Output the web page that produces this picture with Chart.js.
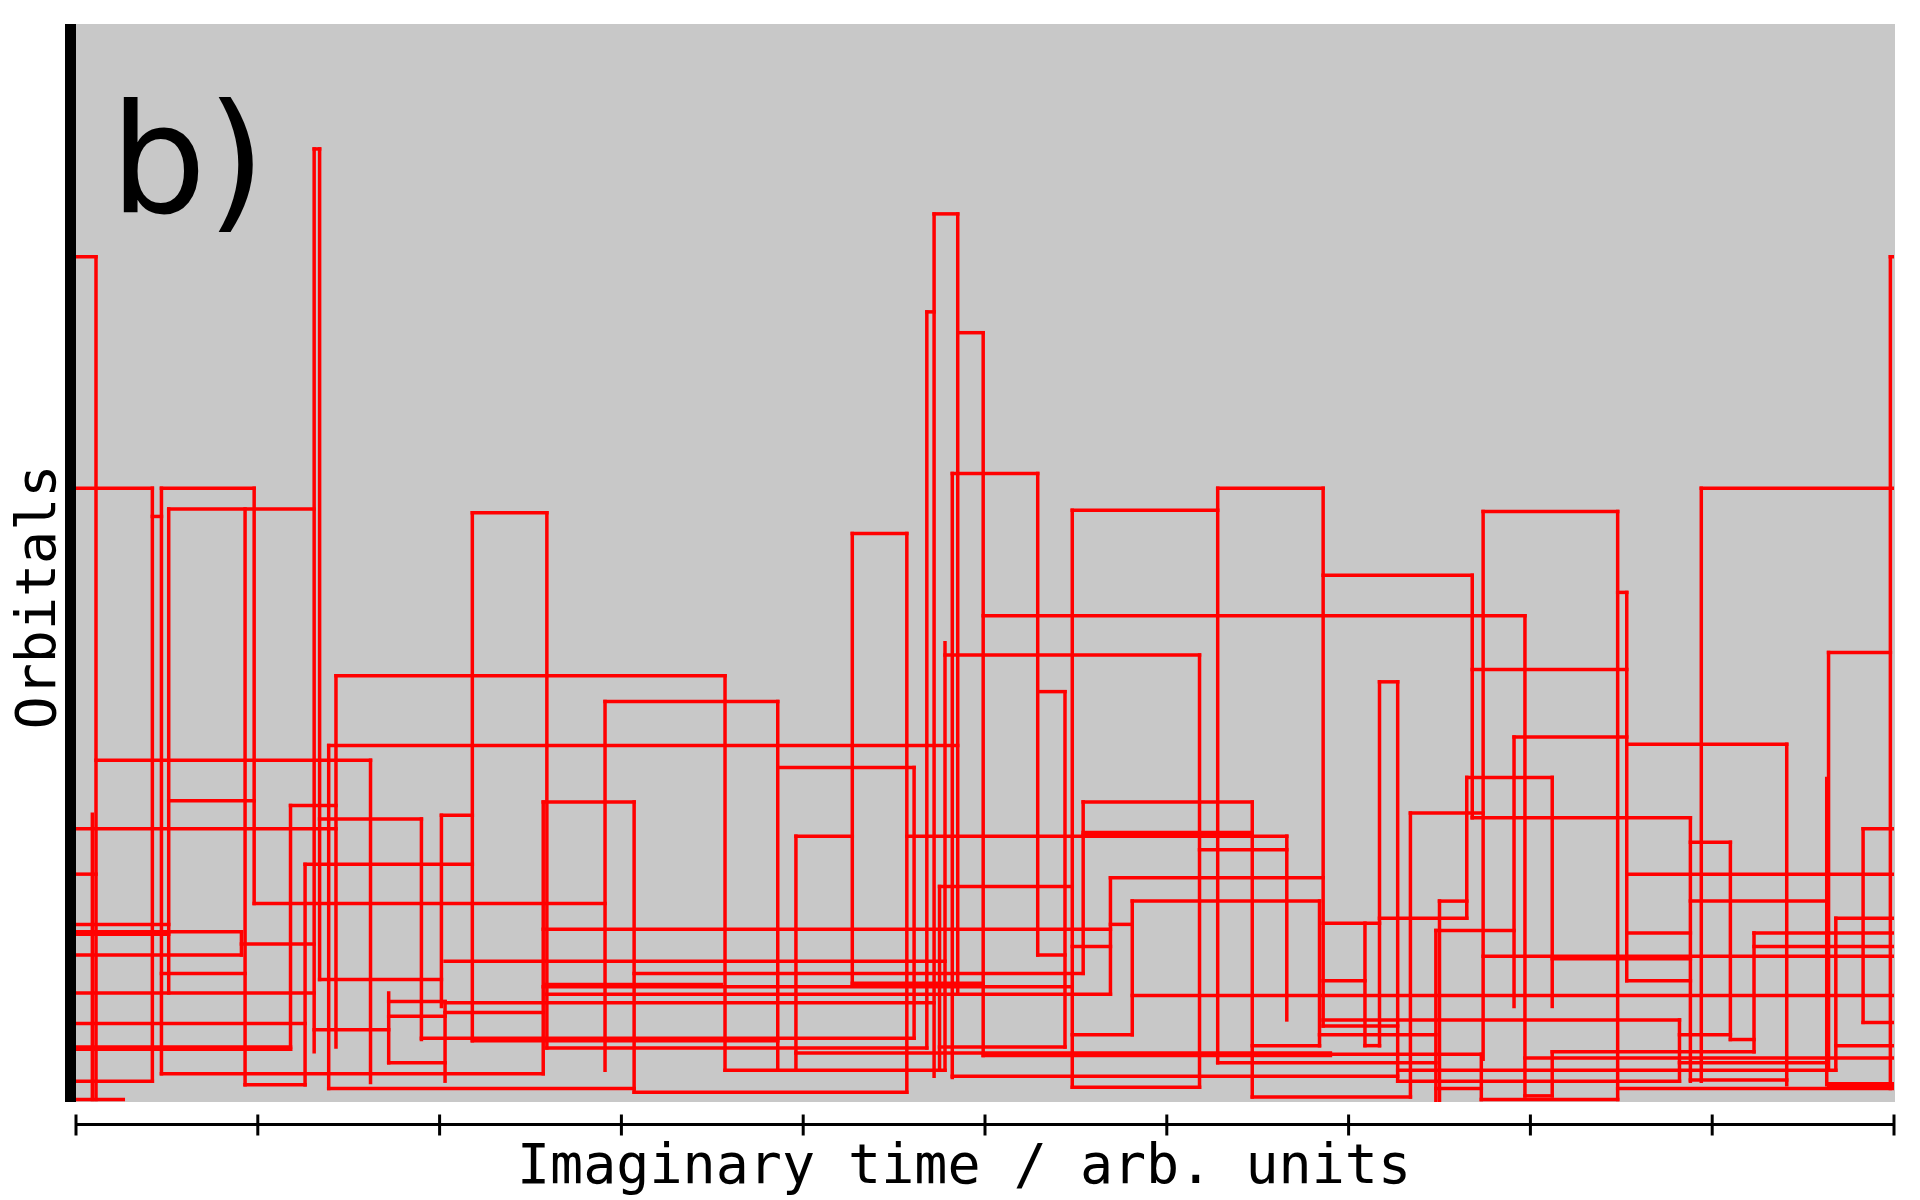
<!DOCTYPE html>
<html>
<head>
<meta charset="utf-8">
<script src="https://cdn.jsdelivr.net/npm/chart.js@4.4.0/dist/chart.umd.min.js"></script>
<style>
  html, body { margin: 0; padding: 0; background: #fff; }
  canvas { display: block; }
</style>
</head>
<body>
<canvas id="chart" width="1920" height="1200"></canvas>
<script>
// tick marks on the time axis (no labels in the original)
const timeTicks = [0, 1, 2, 3, 4, 5, 6, 7, 8, 9, 10];

// horizontal pieces of the world lines: [orbital, time start, time end]
const levels = [
  [69.0, 0, 0.11], [69.0, 9.98, 10], [77.8, 1.31, 1.34], [72.5, 4.72, 4.85],
  [64.5, 4.68, 4.72], [62.8, 4.85, 4.99], [51.3, 4.82, 5.29],
  [50.1, 0, 0.42], [50.1, 0.47, 0.98], [50.1, 6.28, 6.86], [50.1, 8.94, 10],
  [48.4, 0.51, 1.31], [47.8, 0.42, 0.47], [48.1, 2.18, 2.59], [48.3, 5.48, 6.28],
  [48.2, 7.74, 8.48], [46.4, 4.27, 4.57], [43.0, 6.86, 7.68], [41.6, 8.48, 8.53],
  [39.7, 4.99, 7.97], [36.5, 4.78, 6.18], [36.7, 9.64, 9.98], [35.3, 7.68, 8.53],
  [34.8, 1.43, 3.57], [34.3, 7.17, 7.27], [33.5, 5.29, 5.44], [32.7, 2.91, 3.86],
  [29.8, 7.91, 8.53], [29.2, 8.53, 9.41], [29.1, 1.39, 4.85], [27.9, 0.11, 1.62],
  [27.3, 3.86, 4.61], [26.5, 7.65, 8.12], [24.6, 0.51, 0.98], [24.5, 2.57, 3.07],
  [24.5, 5.54, 6.47], [24.2, 1.18, 1.43], [23.4, 2.01, 2.18], [23.6, 7.34, 7.74],
  [23.2, 7.68, 8.88], [23.1, 1.34, 1.90], [22.3, 0, 1.43], [22.0, 5.54, 6.47],
  [21.8, 5.54, 6.47], [21.7, 3.96, 4.27], [21.7, 4.57, 6.66], [21.2, 8.88, 9.10],
  [22.3, 9.83, 10], [20.6, 6.18, 6.66], [19.4, 1.26, 2.18], [18.6, 0, 0.11],
  [18.6, 8.53, 10], [18.3, 5.69, 6.86], [17.6, 4.75, 5.48], [16.4, 5.81, 6.84],
  [16.4, 7.50, 7.65], [16.2, 0.98, 2.91], [16.4, 8.88, 9.63], [15.0, 9.68, 10],
  [14.6, 6.86, 7.17], [15.0, 7.17, 7.65], [14.5, 0, 0.51], [14.5, 5.69, 5.81],
  [14.1, 2.57, 5.69], [14.0, 7.48, 7.91], [13.9, 0, 0.91], [13.7, 0, 0.51],
  [13.8, 9.23, 10], [13.8, 8.53, 8.88], [12.9, 0.91, 1.31], [12.7, 5.48, 5.69],
  [12.7, 9.23, 10], [12.0, 0, 0.91], [12.0, 5.29, 5.44], [11.9, 7.74, 10],
  [11.7, 8.12, 8.88], [11.5, 2.03, 4.78], [10.5, 0.47, 0.93], [10.5, 3.07, 5.54],
  [10.0, 1.34, 2.01], [9.7, 4.27, 4.99], [9.9, 6.86, 7.09], [9.9, 8.53, 8.88],
  [9.4, 2.57, 5.48], [9.6, 2.58, 3.55], [8.9, 0, 1.31], [8.8, 2.59, 5.69],
  [8.7, 5.81, 10], [8.2, 1.72, 2.03], [8.1, 2.03, 4.72], [7.3, 2.03, 2.57],
  [7.0, 1.72, 2.03], [6.7, 6.86, 8.82], [6.5, 9.83, 10], [6.4, 0, 1.26],
  [6.2, 6.86, 7.27], [5.9, 1.31, 1.72], [5.5, 6.84, 7.48], [5.5, 5.48, 5.81],
  [5.5, 8.82, 9.10], [5.2, 1.90, 4.61], [5.0, 2.18, 3.86], [5.1, 9.10, 9.23],
  [4.5, 0, 1.18], [4.3, 0, 1.18], [4.4, 2.59, 4.68], [4.6, 6.47, 6.84],
  [4.6, 7.09, 7.17], [4.6, 9.68, 10], [4.5, 4.75, 5.44], [4.0, 3.96, 6.90],
  [3.8, 4.99, 6.90], [3.9, 6.90, 7.73], [4.1, 8.12, 9.23], [3.2, 6.28, 7.48],
  [3.2, 8.82, 9.63], [3.2, 1.72, 2.03], [3.6, 7.97, 10], [2.6, 3.57, 4.78],
  [2.6, 7.27, 9.68], [2.3, 0.47, 2.57], [2.1, 4.82, 7.27], [1.7, 0, 0.42],
  [1.7, 7.27, 8.82], [1.5, 9.64, 10], [1.3, 9.64, 10], [1.8, 8.88, 9.41],
  [1.4, 0.93, 1.26], [1.2, 5.48, 6.18], [1.1, 1.39, 3.07], [1.1, 7.48, 7.73],
  [1.1, 8.48, 10], [0.8, 3.07, 4.57], [0.4, 6.47, 7.34], [0.5, 7.97, 8.12],
  [0.2, 7.73, 8.48], [0.2, 0, 0.26]
];

// jumps between orbitals: [time, lower orbital, upper orbital]
const hops = [
  [0.09, 0.2, 23.5], [0.11, 0.2, 69.0], [0.42, 1.7, 50.1], [0.47, 2.3, 50.1],
  [0.51, 8.9, 48.4], [0.91, 12.0, 13.9], [0.93, 1.4, 48.4], [0.98, 16.2, 50.1],
  [1.18, 4.3, 24.2], [1.26, 1.4, 19.4], [1.31, 4.1, 77.8], [1.34, 10.0, 77.8],
  [1.39, 1.1, 29.1], [1.43, 4.5, 34.8], [1.62, 1.6, 27.9], [1.72, 3.2, 8.9],
  [1.90, 5.1, 23.1], [2.01, 7.8, 23.4], [2.03, 1.7, 8.2], [2.18, 5.0, 48.1],
  [2.57, 2.3, 24.5], [2.59, 4.4, 48.1], [2.91, 2.6, 32.7], [3.07, 0.8, 24.5],
  [3.57, 2.6, 34.8], [3.86, 2.6, 32.7], [3.96, 2.6, 21.7], [4.27, 9.7, 46.4],
  [4.57, 0.8, 46.4], [4.61, 5.2, 27.3], [4.68, 4.4, 64.5], [4.72, 2.1, 72.5],
  [4.75, 2.6, 17.6], [4.78, 2.6, 37.5], [4.82, 2.0, 51.3], [4.85, 8.9, 72.5],
  [4.99, 3.8, 62.8], [5.29, 12.0, 51.3], [5.44, 4.5, 33.5], [5.48, 1.2, 48.3],
  [5.54, 10.5, 24.5], [5.69, 8.8, 18.3], [5.81, 5.5, 16.4], [6.18, 1.2, 36.5],
  [6.28, 3.2, 50.1], [6.47, 0.4, 24.5], [6.66, 6.7, 21.7], [6.84, 4.6, 16.4],
  [6.86, 6.2, 50.1], [7.09, 4.6, 14.6], [7.17, 4.6, 34.3], [7.27, 1.7, 34.3],
  [7.34, 0.4, 23.6], [7.48, 0.1, 14.0], [7.50, 0.1, 16.4], [7.65, 15.0, 26.5],
  [7.68, 23.2, 43.0], [7.73, 0.2, 3.9], [7.74, 3.5, 48.2], [7.91, 7.8, 29.8],
  [7.97, 0.5, 39.7], [8.12, 7.8, 26.5], [8.12, 0.5, 4.1], [8.48, 0.2, 48.2],
  [8.53, 9.9, 41.6], [8.82, 1.7, 6.7], [8.88, 1.7, 23.2], [8.94, 1.7, 50.1],
  [9.10, 5.1, 21.2], [9.23, 4.1, 13.8], [9.41, 1.4, 29.2], [9.63, 1.4, 26.4],
  [9.64, 2.6, 36.7], [9.68, 2.6, 15.0], [9.83, 6.5, 22.3], [9.98, 1.1, 69.0]
];

const lineColor = '#ff0000';

function segment(points) {
  return {
    data: points,
    showLine: true,
    borderColor: lineColor,
    borderWidth: 3.5,
    borderCapStyle: 'square',
    pointRadius: 0,
    fill: false,
  };
}

const datasets = [];
levels.forEach(([orb, t0, t1]) => {
  datasets.push(segment([{ x: t0, y: orb }, { x: t1, y: orb }]));
});
hops.forEach(([t, lo, hi]) => {
  datasets.push(segment([{ x: t, y: lo }, { x: t, y: hi }]));
});

const framePlugin = {
  id: 'frame',
  beforeDraw(chart) {
    const ctx = chart.ctx;
    const a = chart.chartArea;
    ctx.save();
    ctx.fillStyle = '#ffffff';
    ctx.fillRect(0, 0, chart.width, chart.height);
    ctx.fillStyle = '#c8c8c8';
    ctx.fillRect(a.left, a.top, a.right - a.left + 1, a.bottom - a.top);
    ctx.restore();
  },
  afterDraw(chart) {
    const ctx = chart.ctx;
    const a = chart.chartArea;
    const x = chart.scales.x;
    ctx.save();
    // thick left spine
    ctx.fillStyle = '#000';
    ctx.fillRect(a.left - 11, a.top, 11, a.bottom - a.top);

    // detached bottom axis with ticks crossing it
    const axisY = a.bottom + 22.5;
    ctx.strokeStyle = '#000';
    ctx.lineWidth = 3;
    ctx.beginPath();
    ctx.moveTo(x.getPixelForValue(0), axisY);
    ctx.lineTo(x.getPixelForValue(10) + 1, axisY);
    ctx.stroke();
    timeTicks.forEach(t => {
      const px = x.getPixelForValue(t);
      ctx.beginPath();
      ctx.moveTo(px, axisY - 10);
      ctx.lineTo(px, axisY + 11);
      ctx.stroke();
    });

    ctx.fillStyle = '#000';
    ctx.font = '55px "DejaVu Sans Mono"';
    ctx.textAlign = 'center';
    ctx.textBaseline = 'alphabetic';
    ctx.fillText('Imaginary time / arb. units', 964, 1183);

    ctx.save();
    ctx.translate(55, 597);
    ctx.rotate(-Math.PI / 2);
    ctx.fillText('Orbitals', 0, 0);
    ctx.restore();

    ctx.font = '152px "DejaVu Sans"';
    ctx.textAlign = 'left';
    ctx.fillText('b)', 110, 212);
    ctx.restore();
  }
};

new Chart(document.getElementById('chart'), {
  type: 'scatter',
  data: { datasets },
  options: {
    responsive: false,
    animation: false,
    layout: { padding: { left: 76, right: 26, top: 24, bottom: 98 } },
    plugins: { legend: { display: false }, tooltip: { enabled: false } },
    scales: {
      x: { type: 'linear', min: 0, max: 10, display: false },
      y: { type: 'linear', min: 0, max: 88, display: false }
    }
  },
  plugins: [framePlugin]
});
</script>
</body>
</html>
